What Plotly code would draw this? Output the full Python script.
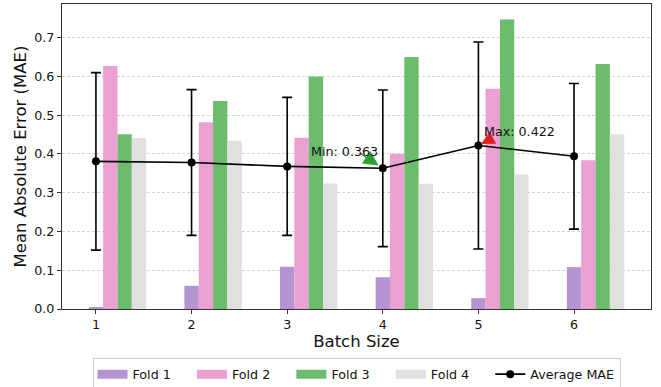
import plotly.graph_objects as go

# Cross-validation MAE per batch size
batch_sizes = [1, 2, 3, 4, 5, 6]
fold_1 = [0.005, 0.060, 0.109, 0.082, 0.028, 0.108]
fold_2 = [0.627, 0.482, 0.442, 0.400, 0.568, 0.384]
fold_3 = [0.451, 0.537, 0.600, 0.650, 0.747, 0.632]
fold_4 = [0.441, 0.434, 0.324, 0.323, 0.347, 0.451]
avg_mae = [0.381, 0.378, 0.368, 0.363, 0.422, 0.394]
std_mae = [0.229, 0.188, 0.178, 0.202, 0.267, 0.188]
fold_names = ["Fold 1", "Fold 2", "Fold 3", "Fold 4"]

folds = [fold_1, fold_2, fold_3, fold_4]
colors = ["#b495d1", "#eba0d4", "#6bbc6b", "#e0e0e0"]
bar_w = 0.15
font_family = "DejaVu Sans"
pad = "\u00a0" * 4  # extra spacing between legend entries

fig = go.Figure()

for i, (vals, col, name) in enumerate(zip(folds, colors, fold_names)):
    fig.add_trace(go.Bar(
        x=[b + i * bar_w for b in batch_sizes], y=vals, width=bar_w,
        marker=dict(color=col, line=dict(width=0)),
        name=name, legendgroup=name, showlegend=False,
    ))
    # wide patch-style legend entry
    fig.add_trace(go.Scatter(
        x=[None], y=[None], mode="lines", name=name + pad, legendgroup=name,
        line=dict(color=col, width=9),
    ))

fig.add_trace(go.Scatter(
    x=batch_sizes, y=avg_mae, mode="lines+markers", name="Average MAE",
    line=dict(color="black", width=1.6),
    marker=dict(color="black", size=8),
    error_y=dict(type="data", array=std_mae, color="black", thickness=1.6, width=5),
))

i_min = avg_mae.index(min(avg_mae))
i_max = avg_mae.index(max(avg_mae))

fig.add_annotation(x=batch_sizes[i_min], y=avg_mae[i_min], text="", showarrow=True,
                   ax=-24, ay=-16, arrowhead=2, arrowsize=2.0, arrowwidth=1.5,
                   arrowcolor="#2ca02c", standoff=5)
fig.add_annotation(x=batch_sizes[i_min], y=avg_mae[i_min], text=f"Min: {avg_mae[i_min]:.3f}",
                   showarrow=False, xanchor="left", yanchor="middle",
                   xshift=-74, yshift=17, font=dict(size=12.7, color="#111"))

fig.add_annotation(x=batch_sizes[i_max], y=avg_mae[i_max], text="", showarrow=True,
                   ax=15, ay=-8, arrowhead=2, arrowsize=1.8, arrowwidth=1.5,
                   arrowcolor="#e02020", standoff=3)
fig.add_annotation(x=batch_sizes[i_max], y=avg_mae[i_max], text=f"Max: {avg_mae[i_max]:.3f}",
                   showarrow=False, xanchor="left", yanchor="middle",
                   xshift=4, yshift=14, font=dict(size=12.7, color="#111"))

fig.update_layout(
    width=661, height=387,
    margin=dict(l=62, r=10, t=4, b=78, autoexpand=False),
    paper_bgcolor="white", plot_bgcolor="white",
    font=dict(family=font_family, size=12.7, color="#111"),
    barmode="overlay",
    showlegend=True,
    legend=dict(
        orientation="h", x=0.5, xanchor="center", y=-0.162, yanchor="top",
        bordercolor="#cccccc", borderwidth=1, bgcolor="white",
        font=dict(size=12.7), itemwidth=30, tracegroupgap=0,
    ),
    xaxis=dict(
        range=[0.645, 6.805], tickvals=batch_sizes, ticktext=[str(b) for b in batch_sizes],
        showgrid=False, zeroline=False,
        showline=True, linecolor="#333", linewidth=1, mirror=True,
        ticks="outside", ticklen=4, tickcolor="#333",
        title=dict(text="Batch Size", font=dict(size=16.5), standoff=2),
    ),
    yaxis=dict(
        range=[0, 0.787], tickvals=[0, 0.1, 0.2, 0.3, 0.4, 0.5, 0.6, 0.7],
        tickformat=".1f",
        showgrid=True, gridcolor="#d4d4d4", griddash="3px,2px", gridwidth=1,
        zeroline=False,
        showline=True, linecolor="#333", linewidth=1, mirror=True,
        ticks="outside", ticklen=4, tickcolor="#333",
        title=dict(text="Mean Absolute Error (MAE)", font=dict(size=16.5), standoff=3),
    ),
)

fig.write_html("out.html")
